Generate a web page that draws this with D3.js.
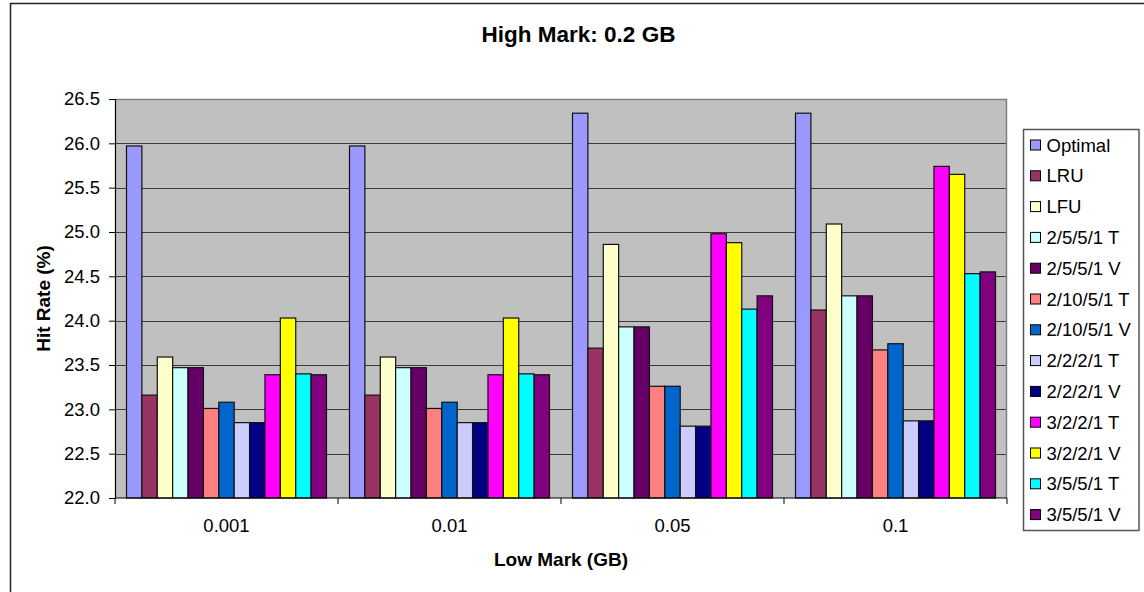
<!DOCTYPE html>
<html>
<head>
<meta charset="utf-8">
<script src="https://cdn.jsdelivr.net/npm/d3@7"></script>
<style>
  html, body { margin: 0; padding: 0; background: #fff; }
  svg { display: block; font-family: "Liberation Sans", Arial, sans-serif; }
</style>
</head>
<body>
<svg id="chart" width="1144" height="592"></svg>
<script>
// Low-mark settings on the x axis
const categories = ["0.001", "0.01", "0.05", "0.1"];

// Replacement policies / predictors
const seriesNames = [
  "Optimal", "LRU", "LFU",
  "2/5/5/1 T", "2/5/5/1 V",
  "2/10/5/1 T", "2/10/5/1 V",
  "2/2/2/1 T", "2/2/2/1 V",
  "3/2/2/1 T", "3/2/2/1 V",
  "3/5/5/1 T", "3/5/5/1 V"
];

const seriesColors = [
  "#9999FF", "#993366", "#FFFFCC",
  "#CCFFFF", "#660066",
  "#FF8080", "#0066CC",
  "#CCCCFF", "#000080",
  "#FF00FF", "#FFFF00",
  "#00FFFF", "#800080"
];

// Hit rate (%) per series, one value per low mark
const optimal   = [25.97, 25.97, 26.34, 26.34];
const lru       = [23.16, 23.16, 23.69, 24.12];
const lfu       = [23.59, 23.59, 24.86, 25.09];
const s2551T    = [23.47, 23.47, 23.93, 24.28];
const s2551V    = [23.47, 23.47, 23.93, 24.28];
const s21051T   = [23.01, 23.01, 23.26, 23.67];
const s21051V   = [23.08, 23.08, 23.26, 23.74];
const s2221T    = [22.85, 22.85, 22.81, 22.87];
const s2221V    = [22.85, 22.85, 22.81, 22.87];
const s3221T    = [23.39, 23.39, 24.98, 25.74];
const s3221V    = [24.03, 24.03, 24.88, 25.65];
const s3551T    = [23.40, 23.40, 24.13, 24.53];
const s3551V    = [23.39, 23.39, 24.28, 24.55];

const seriesValues = [optimal, lru, lfu, s2551T, s2551V, s21051T, s21051V,
                      s2221T, s2221V, s3221T, s3221V, s3551T, s3551V];

const yTicks = [22.0, 22.5, 23.0, 23.5, 24.0, 24.5, 25.0, 25.5, 26.0, 26.5];

const titleText = "High Mark: 0.2 GB";
const xTitle = "Low Mark (GB)";
const yTitle = "Hit Rate (%)";

const svg = d3.select("#chart");

// Chart area frame
svg.append("rect")
  .attr("x", 10.5).attr("y", 3.5)
  .attr("width", 1140).attr("height", 600)
  .attr("fill", "#fff")
  .attr("stroke", "#222").attr("stroke-width", 1.5);

const plot = { left: 115, top: 99, right: 1007, bottom: 498 };

const x0 = d3.scaleBand()
  .domain(categories)
  .range([plot.left, plot.right])
  .padding(0);

const groupPad = 11.5;
const x1 = d3.scaleBand()
  .domain(d3.range(seriesNames.length))
  .range([groupPad, x0.bandwidth() - groupPad])
  .padding(0);

const y = d3.scaleLinear()
  .domain([22.0, 26.5])
  .range([plot.bottom, plot.top]);

// Plot background
svg.append("rect")
  .attr("x", plot.left).attr("y", plot.top)
  .attr("width", plot.right - plot.left)
  .attr("height", plot.bottom - plot.top)
  .attr("fill", "#C0C0C0");

// Gridlines
svg.append("g")
  .selectAll("line")
  .data(yTicks.slice(1))
  .join("line")
  .attr("x1", plot.left).attr("x2", plot.right)
  .attr("y1", d => Math.round(y(d)) + 0.5)
  .attr("y2", d => Math.round(y(d)) + 0.5)
  .attr("stroke", "#3a3a3a").attr("stroke-width", 1.2);

// Plot border (top and right in grey)
svg.append("path")
  .attr("d", `M${plot.left},${plot.top + 0.5}H${plot.right - 0.5}V${plot.bottom}`)
  .attr("fill", "none")
  .attr("stroke", "#808080").attr("stroke-width", 1.5);

// Bars
const groups = svg.append("g")
  .selectAll("g")
  .data(categories)
  .join("g")
  .attr("transform", d => `translate(${x0(d)},0)`);

groups.selectAll("rect")
  .data((c, ci) => seriesValues.map((vals, si) => ({ si, v: vals[ci] })))
  .join("rect")
  .attr("x", d => x1(d.si))
  .attr("y", d => y(d.v))
  .attr("width", x1.bandwidth())
  .attr("height", d => y(22.0) - y(d.v))
  .attr("fill", d => seriesColors[d.si])
  .attr("stroke", "#111")
  .attr("stroke-width", 1.2);

// Y axis
const yAxis = d3.axisLeft(y)
  .tickValues(yTicks)
  .tickFormat(d3.format(".1f"))
  .tickSize(6)
  .tickPadding(9);

const yg = svg.append("g")
  .attr("transform", `translate(${plot.left},0)`)
  .call(yAxis);
yg.select(".domain").attr("stroke", "#000").attr("stroke-width", 1.2);
yg.selectAll(".tick line").attr("stroke", "#000");
yg.selectAll(".tick text")
  .attr("font-size", 18.5)
  .attr("fill", "#000")
  .attr("font-family", "'Liberation Sans', Arial, sans-serif");

// X axis: ticks at category boundaries
const xg = svg.append("g")
  .attr("transform", `translate(0,${plot.bottom})`);
xg.append("line")
  .attr("x1", plot.left).attr("x2", plot.right)
  .attr("y1", 0).attr("y2", 0)
  .attr("stroke", "#000").attr("stroke-width", 1.2);
const boundaries = categories.map(c => x0(c)).concat([x0.range()[1]]);
xg.selectAll("line.tk")
  .data(boundaries)
  .join("line")
  .attr("class", "tk")
  .attr("x1", d => d).attr("x2", d => d)
  .attr("y1", 0).attr("y2", 6)
  .attr("stroke", "#000");
xg.selectAll("text")
  .data(categories)
  .join("text")
  .attr("x", d => x0(d) + x0.bandwidth() / 2)
  .attr("y", 33.5)
  .attr("text-anchor", "middle")
  .attr("font-size", 18.5)
  .attr("fill", "#000")
  .text(d => d);

// Titles
svg.append("text")
  .attr("x", 578.5).attr("y", 41.5)
  .attr("text-anchor", "middle")
  .attr("font-size", 22.5)
  .attr("font-weight", "bold")
  .text(titleText);

svg.append("text")
  .attr("x", (plot.left + plot.right) / 2).attr("y", 566)
  .attr("text-anchor", "middle")
  .attr("font-size", 19)
  .attr("font-weight", "bold")
  .text(xTitle);

svg.append("text")
  .attr("transform", `translate(50,${(plot.top + plot.bottom) / 2}) rotate(-90)`)
  .attr("text-anchor", "middle")
  .attr("font-size", 19)
  .attr("font-weight", "bold")
  .text(yTitle);

// Legend
const legend = svg.append("g");
legend.append("rect")
  .attr("x", 1023.5).attr("y", 129.5)
  .attr("width", 115.5).attr("height", 401)
  .attr("fill", "#fff")
  .attr("stroke", "#555").attr("stroke-width", 1.5);

const legendStep = 30.8;
const items = legend.selectAll("g.item")
  .data(seriesNames)
  .join("g")
  .attr("class", "item")
  .attr("transform", (d, i) => `translate(0,${145 + i * legendStep})`);

items.append("rect")
  .attr("x", 1030.5).attr("y", -5)
  .attr("width", 10).attr("height", 10)
  .attr("fill", (d, i) => seriesColors[i])
  .attr("stroke", "#000").attr("stroke-width", 1);

items.append("text")
  .attr("x", 1046.5).attr("y", 6.5)
  .attr("font-size", 18.5)
  .attr("fill", "#000")
  .text(d => d);
</script>
</body>
</html>
